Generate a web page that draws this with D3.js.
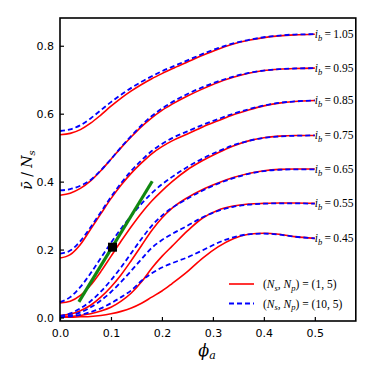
<!DOCTYPE html>
<html><head><meta charset="utf-8">
<script src="https://cdn.jsdelivr.net/npm/d3@7"></script>
<style>body{margin:0;background:#fff}svg{display:block}</style>
</head><body><svg id="c" width="374" height="374"></svg>
<script>
const phi = [0, 0.02, 0.04, 0.06, 0.08, 0.10, 0.12, 0.14, 0.16, 0.18, 0.20, 0.22, 0.25, 0.28, 0.31, 0.34, 0.37, 0.40, 0.43, 0.46, 0.50];
const ibLabels = ["1.05", "0.95", "0.85", "0.75", "0.65", "0.55", "0.45"];
const xTicks = [0.0, 0.1, 0.2, 0.3, 0.4, 0.5];
const yTicks = [0.0, 0.2, 0.4, 0.6, 0.8];

const red105 = [.538,.542,.553,.572,.596,.622,.646,.667,.686,.703,.718,.732,.752,.772,.790,.805,.816,.824,.829,.832,.834];
const blue105 = [.549,.554,.566,.586,.610,.634,.656,.676,.694,.710,.725,.738,.757,.776,.793,.807,.817,.825,.830,.833,.834];
const red095 = [.360,.366,.380,.402,.432,.466,.500,.532,.562,.588,.610,.628,.652,.673,.692,.707,.719,.727,.731,.733,.734];
const blue095 = [.374,.378,.388,.405,.433,.466,.502,.535,.566,.593,.615,.634,.658,.678,.695,.709,.720,.727,.731,.733,.734];
const red085 = [.175,.185,.215,.260,.305,.350,.390,.425,.455,.482,.503,.520,.540,.561,.579,.597,.611,.623,.631,.636,.639];
const blue085 = [.188,.197,.225,.266,.310,.355,.396,.432,.463,.490,.511,.528,.548,.567,.584,.600,.613,.624,.632,.636,.639];
const red075 = [.043,.048,.065,.095,.135,.180,.225,.268,.308,.343,.373,.400,.435,.462,.485,.505,.520,.529,.534,.536,.536];
const blue075 = [.045,.060,.090,.130,.175,.220,.262,.300,.335,.366,.392,.414,.443,.468,.489,.507,.520,.529,.533,.535,.536];
const red065 = [.006,.010,.020,.036,.060,.090,.126,.168,.212,.256,.293,.322,.353,.377,.396,.412,.424,.432,.436,.437,.437];
const blue065 = [.005,.012,.027,.048,.076,.110,.148,.190,.232,.270,.300,.323,.350,.374,.394,.410,.423,.431,.435,.436,.436];
const red055 = [.002,.003,.006,.011,.019,.030,.048,.072,.105,.145,.180,.210,.255,.293,.316,.328,.334,.336,.337,.337,.336];
const blue055 = [.002,.006,.015,.030,.050,.075,.105,.138,.172,.205,.228,.246,.270,.295,.314,.326,.332,.335,.336,.336,.335];
const red045 = [.001,.001,.002,.003,.006,.011,.018,.028,.042,.060,.078,.100,.135,.175,.208,.232,.245,.248,.245,.238,.233];
const blue045 = [.001,.003,.008,.016,.027,.042,.060,.080,.108,.130,.147,.160,.177,.198,.220,.236,.245,.247,.244,.238,.233];

const redSeries = [red105, red095, red085, red075, red065, red055, red045];
const blueSeries = [blue105, blue095, blue085, blue075, blue065, blue055, blue045];

const greenPhi = [0.037, 0.181];
const greenV = [0.046, 0.401];
const markerPhi = [0.103];
const markerV = [0.207];

const legendLabels = [["(", "N", "s", ", ", "N", "p", ") = (1, 5)"], ["(", "N", "s", ", ", "N", "p", ") = (10, 5)"]];

const svg = d3.select("#c");
const x = d3.scaleLinear().domain([0, 0.5804]).range([60, 355.8]);
const y = d3.scaleLinear().domain([-0.0103, 0.8817]).range([321, 18]);

const g = svg.append("g");
const line = d3.line().x(d => x(d[0])).y(d => y(d[1])).curve(d3.curveMonotoneX);

redSeries.forEach((s, i) => {
  g.append("path").datum(phi.map((p, j) => [p, s[j]]))
    .attr("d", line).attr("fill", "none").attr("stroke", "#ff0000").attr("stroke-width", 1.6);
});
blueSeries.forEach((s, i) => {
  g.append("path").datum(phi.map((p, j) => [p, s[j]]))
    .attr("d", line).attr("fill", "none").attr("stroke", "#0000ff").attr("stroke-width", 1.8)
    .attr("stroke-dasharray", "5,3");
});

g.append("line").attr("x1", x(greenPhi[0])).attr("y1", y(greenV[0]))
  .attr("x2", x(greenPhi[1])).attr("y2", y(greenV[1]))
  .attr("stroke", "#118811").attr("stroke-width", 3.2);

g.selectAll("rect.m").data(markerPhi).enter().append("rect")
  .attr("x", (d, i) => x(d) - 4.5).attr("y", (d, i) => y(markerV[i]) - 4.5)
  .attr("width", 9).attr("height", 9).attr("fill", "#000");

// ib labels
redSeries.forEach((s, i) => {
  const t = svg.append("text").attr("x", x(0.5)).attr("y", y(s[s.length - 1]) + 4)
    .attr("font-family", "Liberation Serif, Times New Roman, serif").attr("font-size", 11.5).attr("fill", "#000");
  t.append("tspan").attr("font-style", "italic").text("i");
  t.append("tspan").attr("font-style", "italic").attr("font-size", 8.5).attr("dy", 2.5).text("b");
  t.append("tspan").attr("dy", -2.5).text("\u2009=\u2009" + ibLabels[i]);
});

// axes
const xAxis = d3.axisBottom(x).tickValues(xTicks).tickFormat(d3.format(".1f")).tickSizeInner(-4).tickSizeOuter(0).tickPadding(6);
const yAxis = d3.axisLeft(y).tickValues(yTicks).tickFormat(d3.format(".1f")).tickSizeInner(-4).tickSizeOuter(0).tickPadding(6);
const gx = svg.append("g").attr("transform", "translate(0,321)").call(xAxis);
const gy = svg.append("g").attr("transform", "translate(60,0)").call(yAxis);
[gx, gy].forEach(a => {
  a.select(".domain").remove();
  a.selectAll(".tick line").attr("stroke", "#000").attr("stroke-width", 1.2);
  a.selectAll(".tick text").attr("font-family", "DejaVu Sans, sans-serif").attr("font-size", 11).attr("fill", "#000");
});
gx.selectAll(".tick text").attr("dy", "0.9em");

svg.append("rect").attr("x", 60).attr("y", 18).attr("width", 295.8).attr("height", 303)
  .attr("fill", "none").attr("stroke", "#000").attr("stroke-width", 1.6);

// legend
const leg = svg.append("g");
legendLabels.forEach((parts, i) => {
  const ly = 284 + i * 19.5;
  leg.append("line").attr("x1", 229).attr("x2", 254).attr("y1", ly).attr("y2", ly)
    .attr("stroke", i === 0 ? "#ff0000" : "#0000ff").attr("stroke-width", i === 0 ? 1.6 : 1.8)
    .attr("stroke-dasharray", i === 0 ? null : "5,3");
  const t = leg.append("text").attr("x", 263).attr("y", ly + 4)
    .attr("font-family", "Liberation Serif, Times New Roman, serif").attr("font-size", 11.5).attr("fill", "#000");
  t.append("tspan").text(parts[0]);
  t.append("tspan").attr("font-style", "italic").text(parts[1]);
  t.append("tspan").attr("font-style", "italic").attr("font-size", 8.5).attr("dy", 2.5).text(parts[2]);
  t.append("tspan").attr("dy", -2.5).text(parts[3]);
  t.append("tspan").attr("font-style", "italic").text(parts[4]);
  t.append("tspan").attr("font-style", "italic").attr("font-size", 8.5).attr("dy", 2.5).text(parts[5]);
  t.append("tspan").attr("dy", -2.5).text(parts[6]);
});

// axis labels
const xl = svg.append("text").attr("x", 207).attr("y", 356).attr("text-anchor", "middle")
  .attr("font-family", "DejaVu Serif, serif").attr("font-size", 16).attr("fill", "#000");
xl.append("tspan").attr("font-style", "italic").text("\u03D5");
xl.append("tspan").attr("font-style", "italic").attr("font-size", 11).attr("dy", 3).text("a");

const yl = svg.append("text").attr("transform", "translate(32,170) rotate(-90)").attr("text-anchor", "middle")
  .attr("font-family", "DejaVu Serif, serif").attr("font-size", 14).attr("fill", "#000");
yl.append("tspan").attr("font-style", "italic").text("\u03BD\u0304");
yl.append("tspan").text(" / ");
yl.append("tspan").attr("font-style", "italic").text("N");
yl.append("tspan").attr("font-style", "italic").attr("font-size", 10).attr("dy", 3).text("s");
</script></body></html>
